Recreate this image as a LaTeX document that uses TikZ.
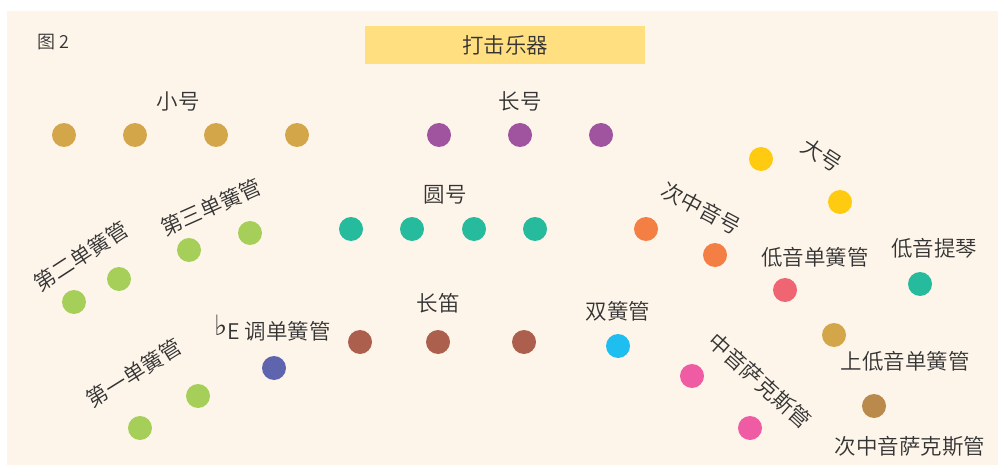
\documentclass[tikz,border=0pt]{standalone}
\usepackage{fontspec}
\setmainfont{Noto Sans CJK SC DemiLight}
\newfontfamily\symfont{DejaVu Sans}
\definecolor{bgc}{HTML}{FEF5EA}
\definecolor{txt}{HTML}{333333}
\definecolor{boxc}{HTML}{FFDF80}
\definecolor{cTrumpet}{HTML}{D4A64A}
\definecolor{cTrombone}{HTML}{A0539E}
\definecolor{cHorn}{HTML}{26BB9C}
\definecolor{cEuph}{HTML}{F47F45}
\definecolor{cTuba}{HTML}{FFCB10}
\definecolor{cClar}{HTML}{A5CF58}
\definecolor{cEb}{HTML}{5E64AE}
\definecolor{cFlute}{HTML}{AD5F4E}
\definecolor{cOboe}{HTML}{1EBEF0}
\definecolor{cBassCl}{HTML}{F06572}
\definecolor{cAlto}{HTML}{F05CA4}
\definecolor{cTenor}{HTML}{B98A4B}
\tikzset{
  seat/.style={circle, minimum size=24pt, inner sep=0pt, fill=#1},
  lab/.style={text=txt, font=\fontsize{21.5pt}{24pt}\selectfont, inner sep=0pt}
}
\begin{document}
\begin{tikzpicture}[x=1pt,y=-1pt]
\useasboundingbox (0,0) rectangle (998,465);
\fill[white] (0,0) rectangle (998,465);
\fill[bgc] (7,11) rectangle (998,465);
\node[lab, font=\fontsize{18pt}{20pt}\selectfont] (fig) at (53,42) {图 2};
\node[fill=boxc, minimum width=280pt, minimum height=38pt, inner sep=0pt] (perc) at (505,45) {};
\node[lab] (perclab) at (perc.center) {打击乐器};
% trumpet
\node[seat=cTrumpet] (t1) at (64,135) {};
\node[seat=cTrumpet] (t2) at (135,135) {};
\node[seat=cTrumpet] (t3) at (216,135) {};
\node[seat=cTrumpet] (t4) at (297,135) {};
\node[lab] (tl) at (178,101) {小号};
% trombone
\node[seat=cTrombone] (tb1) at (439,135) {};
\node[seat=cTrombone] (tb2) at (520,135) {};
\node[seat=cTrombone] (tb3) at (601,135) {};
\node[lab] (tbl) at (520,101) {长号};
% tuba
\node[seat=cTuba] (tu1) at (761,159) {};
\node[seat=cTuba] (tu2) at (840,202) {};
\node[lab, rotate=-33] (tul) at (822,155) {大号};
% horn
\node[seat=cHorn] (h1) at (351,229) {};
\node[seat=cHorn] (h2) at (412,229) {};
\node[seat=cHorn] (h3) at (474,229) {};
\node[seat=cHorn] (h4) at (535,229) {};
\node[lab] (hl) at (445,195) {圆号};
% euphonium
\node[seat=cEuph] (e1) at (646,229) {};
\node[seat=cEuph] (e2) at (715,255) {};
\node[lab, rotate=-28] (el) at (701,208) {次中音号};
% clarinets
\node[seat=cClar] (c31) at (189,250) {};
\node[seat=cClar] (c32) at (250,233) {};
\node[lab, rotate=24] (c3l) at (211,207) {第三单簧管};
\node[seat=cClar] (c21) at (74,302) {};
\node[seat=cClar] (c22) at (119,279) {};
\node[lab, rotate=33] (c2l) at (81,256) {第二单簧管};
\node[seat=cClar] (c11) at (140,428) {};
\node[seat=cClar] (c12) at (198,396) {};
\node[lab, rotate=32] (c1l) at (134,373) {第一单簧管};
% Eb clarinet
\node[seat=cEb] (eb) at (274,368) {};
\node[lab, anchor=west] (ebl) at (214,328) {{\symfont\raisebox{4pt}{\fontsize{28pt}{28pt}\selectfont ♭}}E 调单簧管};
% flute
\node[seat=cFlute] (f1) at (360,342) {};
\node[seat=cFlute] (f2) at (438,342) {};
\node[seat=cFlute] (f3) at (524,342) {};
\node[lab] (fl) at (438,303) {长笛};
% oboe
\node[seat=cOboe] (o1) at (618,346) {};
\node[lab] (ol) at (618,311) {双簧管};
% bass clarinet
\node[seat=cBassCl] (bc) at (785,290) {};
\node[lab] (bcl) at (815,257) {低音单簧管};
% double bass
\node[seat=cHorn] (db) at (920,284) {};
\node[lab] (dbl) at (934,248) {低音提琴};
% baritone
\node[seat=cTrumpet] (bar) at (834,335) {};
\node[lab] (barl) at (905,361) {上低音单簧管};
% alto sax
\node[seat=cAlto] (a1) at (692,376) {};
\node[seat=cAlto] (a2) at (750,428) {};
\node[lab, rotate=-42] (al) at (760,381) {中音萨克斯管};
% tenor sax
\node[seat=cTenor] (ts) at (874,406) {};
\node[lab] (tsl) at (910,446) {次中音萨克斯管};
\end{tikzpicture}
\end{document}
